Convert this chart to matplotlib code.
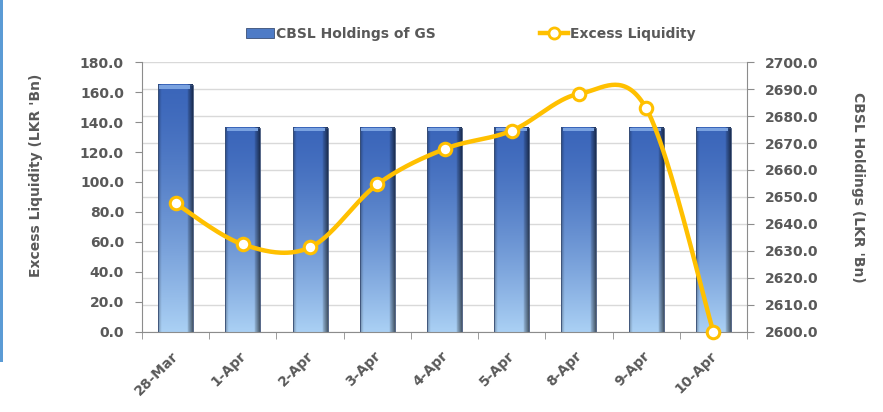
import numpy as np
import matplotlib
matplotlib.use("Agg")
import matplotlib.pyplot as plt
import matplotlib.transforms as mtransforms
from matplotlib.lines import Line2D
from matplotlib.patches import Patch, Rectangle

# data
dates = ["28-Mar", "1-Apr", "2-Apr", "3-Apr", "4-Apr", "5-Apr", "8-Apr", "9-Apr", "10-Apr"]
cbsl_gs = [2691.5, 2675.7, 2675.7, 2675.7, 2675.7, 2675.7, 2675.7, 2675.7, 2675.7]
excess_liq = [85.8, 58.4, 56.4, 98.4, 122.0, 134.2, 158.7, 149.1, 0.0]

grey = "#595959"
axgrey = "#8C8C8C"
orange = "#FFC000"
plt.rcParams["font.family"] = ["DejaVu Sans"]
plt.rcParams["font.weight"] = "bold"

fig = plt.figure(figsize=(8.83, 4.12), dpi=100)
ax = fig.add_axes([0.1608, 0.1942, 0.6852, 0.6553])
ax2 = ax.twinx()
ax.set_zorder(ax2.get_zorder() + 1)
ax.patch.set_visible(False)

x = np.arange(len(dates))
n = len(dates)

# bars on right axis, gradient fill
w = 0.52
top_c = np.array([0x3B, 0x66, 0xBA]) / 255
bot_c = np.array([0xAA, 0xD0, 0xF4]) / 255
rows, cols = 100, 40
t = (np.linspace(0, 1, rows) ** 1.4)[:, None, None]
grad = top_c * (1 - t) + bot_c * t
xs = np.linspace(0, 1, cols)
shade = np.ones(cols)
shade[xs > 0.86] = np.linspace(0.85, 0.45, (xs > 0.86).sum())
shade[xs < 0.08] = np.linspace(0.7, 0.95, (xs < 0.08).sum())
img = np.clip(grad * shade[None, :, None], 0, 1)
for xi, v in zip(x, cbsl_gs):
    ax2.imshow(img, extent=[xi - w / 2, xi + w / 2, 2600, v], aspect="auto",
               origin="upper", zorder=2, interpolation="bilinear")
    ax2.add_patch(Rectangle((xi - w / 2, 2600), w, v - 2600, fill=False,
                            edgecolor="#3A4F75", lw=0.6, zorder=3))
    ax2.add_patch(Rectangle((xi - w / 2 + 0.02, v - 1.4), w - 0.06, 1.4,
                            color="#7AA2E0", lw=0, zorder=3))
ax2.set_xlim(-0.5, n - 0.5)
ax2.set_ylim(2600, 2700)
ax2.set_yticks(np.arange(2600, 2701, 10))
ax2.set_yticklabels([f"{v:.1f}" for v in np.arange(2600, 2701, 10)])
ax2.grid(axis="y", color="#D9D9D9", lw=1, zorder=0)
ax2.set_axisbelow(True)

# smoothed line on left axis (Excel-like bezier smoothing in pixel space)
sx, sy = 67.2, 1.5
P = np.column_stack([x * sx, np.array(excess_liq) * sy])
curve = []
for i in range(n - 1):
    p0 = P[max(i - 1, 0)]
    p1 = P[i]
    p2 = P[i + 1]
    p3 = P[min(i + 2, n - 1)]
    c1 = p1 + (p2 - p0) / 6
    c2 = p2 - (p3 - p1) / 6
    tt = np.linspace(0, 1, 40)[:, None]
    seg = ((1 - tt) ** 3) * p1 + 3 * ((1 - tt) ** 2) * tt * c1 + 3 * (1 - tt) * tt ** 2 * c2 + tt ** 3 * p2
    curve.append(seg)
curve = np.vstack(curve)
ax.plot(curve[:, 0] / sx, curve[:, 1] / sy, color=orange, lw=3.2, zorder=4,
        solid_capstyle="round", clip_on=False)
ax.plot(x, excess_liq, "o", ms=9, mfc="white", mec=orange, mew=2.2, zorder=5,
        clip_on=False)

ax.set_xlim(-0.5, n - 0.5)
ax.set_ylim(0, 180)
ax.set_yticks(np.arange(0, 181, 20))
ax.set_yticklabels([f"{v:.1f}" for v in np.arange(0, 181, 20)])
ax.set_xticks(x)
ax.set_xticklabels(dates, rotation=45, ha="right", va="top", rotation_mode="anchor")
ax.set_xticks(np.arange(-0.5, n, 1), minor=True)
ax.tick_params(axis="x", which="major", length=0, pad=12, labelsize=10, colors=grey)
ax.tick_params(axis="x", which="minor", length=5, color=axgrey, direction="out")
ax.tick_params(axis="y", length=5, color=axgrey, labelsize=10, labelcolor=grey, pad=8)
ax2.tick_params(axis="y", length=5, color=axgrey, labelsize=10, labelcolor=grey, pad=8)
ax2.tick_params(axis="x", length=0, labelbottom=False)
shift = mtransforms.ScaledTranslation(-4 / 100, 0, fig.dpi_scale_trans)
for lbl in ax.get_xticklabels():
    lbl.set_transform(lbl.get_transform() + shift)

for a in (ax, ax2):
    a.spines["top"].set_visible(False)
    for s in ("left", "right", "bottom"):
        a.spines[s].set_color(axgrey)
ax.spines["right"].set_visible(False)
ax2.spines["left"].set_visible(False)
ax2.spines["bottom"].set_visible(False)

ax.set_ylabel("Excess Liquidity (LKR 'Bn)", fontsize=10, fontweight="bold",
              color=grey, va="center")
ax.yaxis.set_label_coords(-0.175, 0.581)
ax2.set_ylabel("CBSL Holdings (LKR 'Bn)", fontsize=10, fontweight="bold",
               color=grey, rotation=-90, va="center")
ax2.yaxis.set_label_coords(1.183, 0.537)

handles = [Patch(facecolor="#4E7BC6", edgecolor="#3A4F75", lw=0.6),
           Line2D([], [], color=orange, lw=3.2, marker="o", ms=8, mfc="white",
                  mec=orange, mew=2)]
leg = fig.legend(handles, ["CBSL Holdings of GS", "Excess Liquidity"], ncol=2,
                 loc="center", bbox_to_anchor=(0.5334, 0.917), frameon=False,
                 fontsize=10, handlelength=2.0, handletextpad=0.15,
                 columnspacing=7.5)
for txt in leg.get_texts():
    txt.set_color(grey)

# thin blue strip on the left edge
fig.add_artist(Rectangle((0, (412 - 362) / 412), 3 / 883, 362 / 412,
                         transform=fig.transFigure, color="#5B9BD5", lw=0))

fig.savefig("out.png", dpi=100)
